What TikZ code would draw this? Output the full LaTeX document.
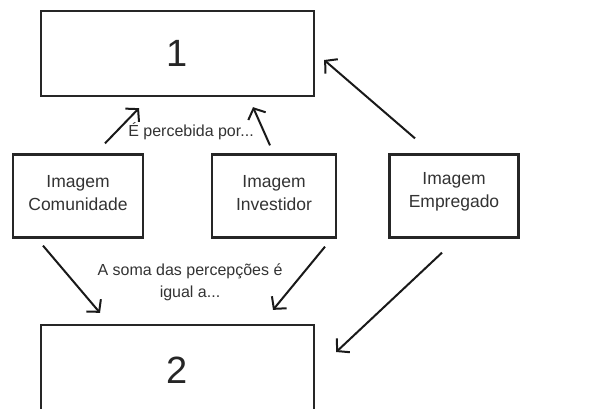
\documentclass[tikz,border=0pt]{standalone}
\usepackage{fontspec}
\setmainfont{Liberation Sans}
\usetikzlibrary{arrows.meta,calc}
\begin{document}
\begin{tikzpicture}[x=1pt,y=-1pt,
  box/.style={draw=black!85,line width=2.3pt,fill=white,inner sep=0pt,align=center,font=\fontsize{17.5}{23.5}\selectfont,text=black!80,text depth=6pt},
  bigbox/.style={draw=black!85,line width=2.3pt,inner sep=0pt,font=\fontsize{38}{40}\selectfont,text=black!85},
  arr/.style={draw=black!90,line width=2pt,-{Straight Barb[length=8.5pt,width=19pt,line width=2pt]}},
  lbl/.style={font=\fontsize{16}{22}\selectfont,text=black!80,align=center,inner sep=0pt}]
\useasboundingbox (0,0) rectangle (607,408);
\clip (0,0) rectangle (607,408);
\node[bigbox,minimum width=273pt,minimum height=85pt] (b1) at (177.5,53.5) {1};
\node[bigbox,minimum width=273pt,minimum height=90pt] (b2) at (177.5,370) {2};
\node[box,minimum width=130pt,minimum height=83pt] (com) at (78,196) {Imagem\\Comunidade};
\node[box,minimum width=124pt,minimum height=83pt] (inv) at (274,196) {Imagem\\Investidor};
\node[box,minimum width=129pt,minimum height=83pt,text depth=12pt] (emp) at (454,196) {Imagem\\Empregado};
\node[lbl] (t1) at (191,131) {É percebida por...};
\node[lbl] (t2) at (190,282) {A soma das percepções é\\igual a...};
\draw[arr] ($(com.north)+(27,-10)$) -- ($(b1.south)+(-38.5,11)$);
\draw[arr] ($(inv.north)+(-4,-8)$) -- ($(b1.south)+(75.5,10)$);
\draw[arr] ($(emp.north)+(-39,-15)$) -- ($(b1.east)+(9,6.5)$);
\draw[arr] ($(com.south)+(-35,7)$) -- ($(b2.north)+(-77.5,-11)$);
\draw[arr] ($(inv.south)+(51,8)$) -- ($(b2.north)+(95.5,-14)$);
\draw[arr] ($(emp.south)+(-12,14)$) -- ($(b2.east)+(21,-18)$);
\end{tikzpicture}
\end{document}
